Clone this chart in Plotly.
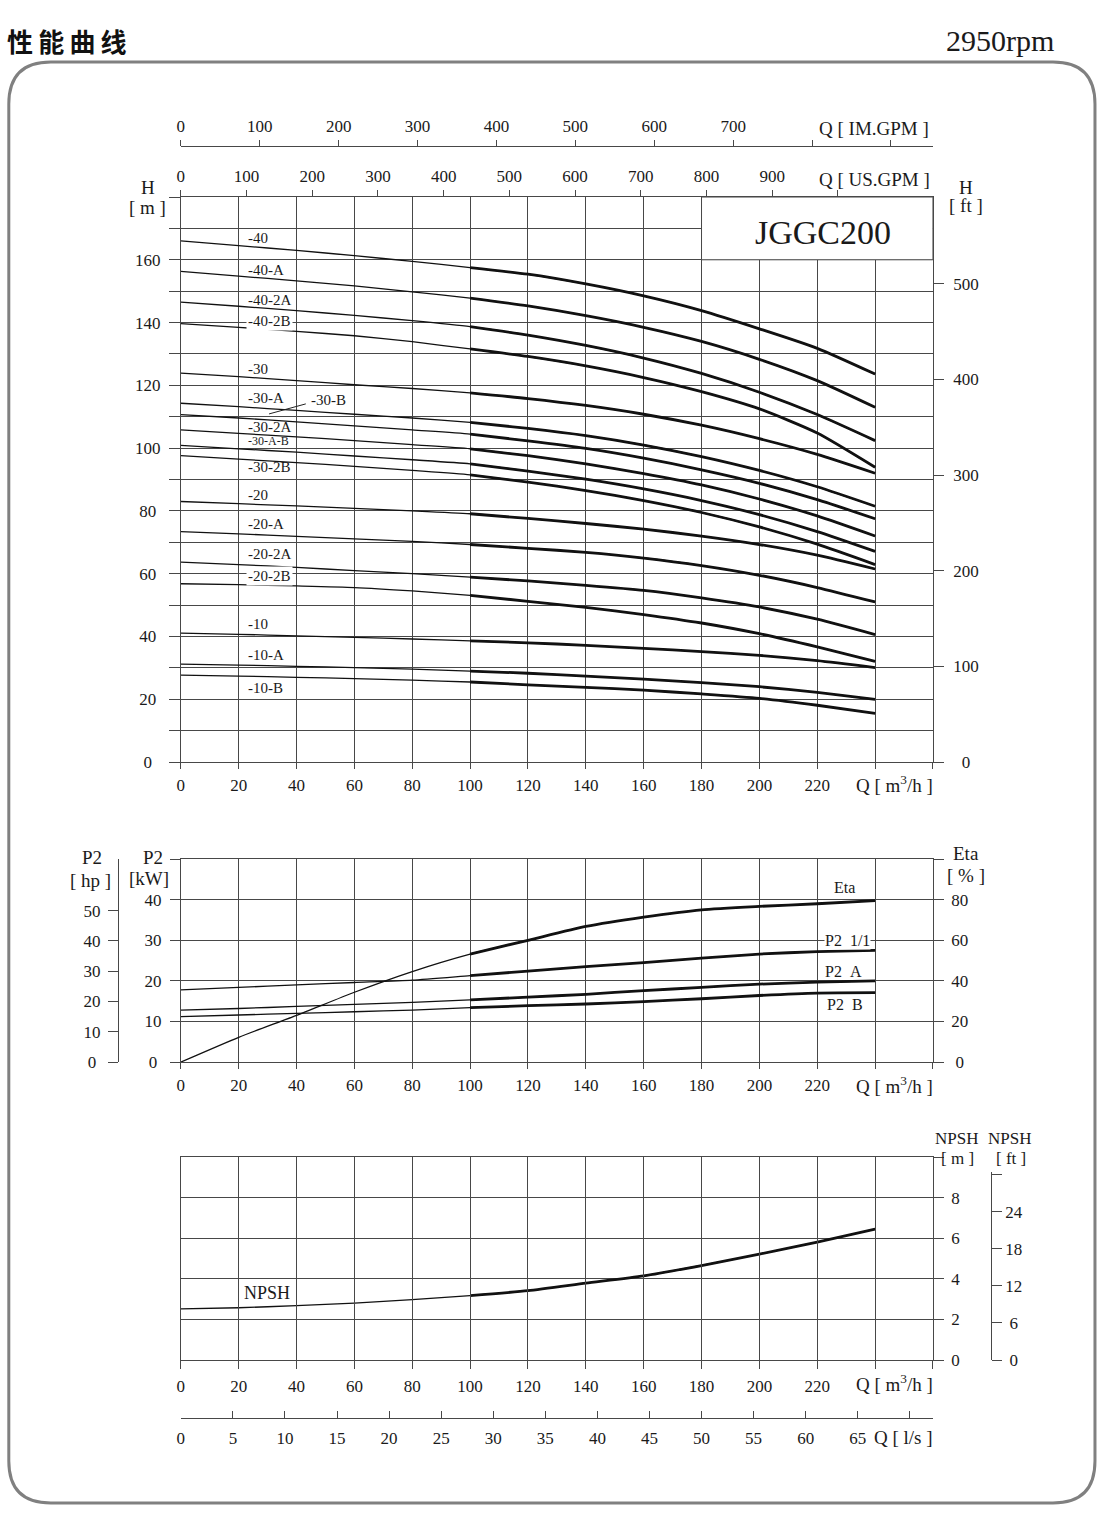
import plotly.graph_objects as go

W, HC = 1100, 1534          # canvas (figure) size in px
SY = 0.9934                 # viewer vertical scale compensation
SX, OX = 0.9962, 3.2        # viewer horizontal scale/offset compensation

# ---------------- data ----------------
Q = [0, 20, 40, 60, 80, 100, 120, 140, 160, 180, 200, 220, 240]

curve_names = ["-40", "-40-A", "-40-2A", "-40-2B", "-30", "-30-A", "-30-B", "-30-2A",
               "-30-A-B", "-30-2B", "-20", "-20-A", "-20-2A", "-20-2B", "-10", "-10-A", "-10-B"]
H_40 = [166.0, 164.5, 163.0, 161.3, 159.5, 157.5, 155.4, 152.3, 148.5, 143.8, 138.0, 131.8, 123.6]
H_40A = [156.3, 154.8, 153.3, 151.7, 149.8, 147.8, 145.3, 142.2, 138.5, 134.0, 128.3, 121.5, 113.0]
H_40_2A = [146.5, 145.2, 143.8, 142.3, 140.6, 138.7, 136.0, 132.7, 128.7, 123.8, 117.8, 110.7, 102.4]
H_40_2B = [139.7, 138.5, 137.2, 135.8, 133.9, 131.6, 129.2, 126.2, 122.5, 118.0, 112.5, 104.8, 93.9]
H_30 = [123.9, 122.8, 121.5, 120.2, 119.0, 117.6, 115.8, 113.6, 110.8, 107.3, 103.0, 98.0, 92.0]
H_30A = [114.3, 113.2, 112.0, 110.8, 109.6, 108.2, 106.3, 104.0, 101.0, 97.3, 92.9, 87.7, 81.5]
H_30B = [110.7, 109.6, 108.4, 107.1, 105.8, 104.5, 102.3, 99.9, 96.8, 93.1, 88.8, 83.6, 77.5]
H_30_2A = [105.8, 104.7, 103.6, 102.4, 101.1, 99.8, 97.6, 95.0, 91.9, 88.3, 83.8, 78.4, 72.0]
H_30AB = [100.9, 99.8, 98.7, 97.5, 96.3, 95.0, 92.7, 90.1, 87.0, 83.3, 78.8, 73.4, 67.1]
H_30_2B = [97.6, 96.5, 95.4, 94.2, 92.9, 91.5, 89.2, 86.5, 83.3, 79.5, 74.9, 69.4, 62.9]
H_20 = [83.0, 82.3, 81.6, 80.8, 80.0, 79.1, 77.6, 76.0, 74.2, 72.0, 69.3, 65.9, 61.5]
H_20A = [73.4, 72.7, 71.9, 71.1, 70.3, 69.3, 68.1, 66.8, 65.0, 62.6, 59.5, 55.6, 51.0]
H_20_2A = [63.7, 62.9, 62.0, 61.0, 60.0, 58.9, 57.7, 56.3, 54.7, 52.3, 49.4, 45.5, 40.6]
H_20_2B = [56.8, 56.5, 56.1, 55.6, 54.5, 53.1, 51.2, 49.3, 47.0, 44.3, 40.9, 36.7, 32.1]
H_10 = [41.1, 40.7, 40.2, 39.7, 39.2, 38.6, 38.0, 37.2, 36.2, 35.2, 34.0, 32.3, 30.1]
H_10A = [31.2, 30.9, 30.5, 30.1, 29.6, 29.0, 28.3, 27.4, 26.4, 25.3, 24.0, 22.2, 20.0]
H_10B = [27.7, 27.4, 27.0, 26.6, 26.1, 25.5, 24.6, 23.8, 22.9, 21.7, 20.3, 18.1, 15.5]
H_curves = [H_40, H_40A, H_40_2A, H_40_2B, H_30, H_30A, H_30B, H_30_2A, H_30AB, H_30_2B,
            H_20, H_20A, H_20_2A, H_20_2B, H_10, H_10A, H_10B]

# label positions (Q, H) for the curve names
label_Q = [22.6] * 17
label_Q[6] = 44.2
label_H = [166.8, 156.8, 147.2, 140.6, 125.2, 116.0, 115.4, 106.6, 102.2, 93.9,
           85.1, 75.9, 66.4, 59.3, 44.0, 34.0, 23.6]

P2_FULL = [17.8, 18.4, 19.0, 19.6, 20.2, 21.3, 22.4, 23.5, 24.5, 25.6, 26.6, 27.2, 27.5]
P2_A = [12.8, 13.2, 13.7, 14.2, 14.7, 15.3, 16.0, 16.7, 17.6, 18.4, 19.2, 19.7, 20.0]
P2_B = [11.2, 11.6, 12.0, 12.4, 12.8, 13.4, 13.9, 14.3, 14.9, 15.6, 16.4, 17.0, 17.1]
ETA = [0.0, 12.2, 23.0, 34.4, 44.6, 53.2, 60.0, 66.8, 71.4, 75.0, 76.7, 78.0, 79.5]
NPSH = [2.52, 2.58, 2.68, 2.81, 2.98, 3.18, 3.42, 3.79, 4.15, 4.66, 5.22, 5.81, 6.45]

# tick lists: labelled (major) and unlabelled (minor) positions, with centred labels
NB = "\u00a0"
q_major = list(range(0, 221, 20))
q_minor = [240, 260]
h_major = list(range(0, 161, 20))
h_text = ["0" + NB * 2, "20" + NB, "40" + NB, "60" + NB, "80" + NB, "100", "120", "140", "160"]
h_minor = list(range(10, 181, 20)) + [180]
hft_major = [0, 100, 200, 300, 400, 500]
hft_text = [NB * 2 + "0", "100", "200", "300", "400", "500"]
us_major = list(range(0, 901, 100))
us_minor = [1000]
im_major = list(range(0, 701, 100))
im_minor = [800, 900]
kw_major = [0, 10, 20, 30, 40]
kw_text = ["0" + NB, "10", "20", "30", "40"]
kw_minor = [50]
eta_major = [0, 20, 40, 60, 80]
eta_text = [NB + "0", "20", "40", "60", "80"]
eta_minor = [100]
hp_major = [0, 10, 20, 30, 40, 50]
hp_text = ["0" + NB, "10", "20", "30", "40", "50"]
npsh_major = [0, 2, 4, 6, 8]
npsh_minor = [10]
nft_major = [0, 6, 12, 18, 24]
nft_text = [NB + "0", NB + "6", "12", "18", "24"]
nft_minor = [30]
ls_major = list(range(0, 66, 5))
ls_minor = [70]

# unit conversions
M3H_TO_USGPM = 4.4029
M3H_TO_IMGPM = 3.6662
M_TO_FT = 3.2808
KW_PER_HP = 0.7457
M3H_PER_LS = 3.6
Q_MAX = 260

# ---------------- helpers ----------------
def fx(px):
    return (px - OX) / SX / W


def fy(py):
    return 1 - (py / SY) / HC


SERIF = "Liberation Serif, Times New Roman, serif"
INK = "#1a1a1a"
GRID = "#484848"
tickfont = dict(family=SERIF, size=17, color=INK)

fig = go.Figure()


def add_curve(x, y, xa, ya, split=100):
    fig.add_trace(go.Scatter(x=x, y=y, xaxis=xa, yaxis=ya, mode="lines",
                             line=dict(color="#111111", width=1.3, shape="spline", smoothing=0.6),
                             hoverinfo="skip", showlegend=False))
    xs = [a for a in x if a >= split]
    ys = [b for a, b in zip(x, y) if a >= split]
    fig.add_trace(go.Scatter(x=xs, y=ys, xaxis=xa, yaxis=ya, mode="lines",
                             line=dict(color="#111111", width=2.8, shape="spline", smoothing=0.6),
                             hoverinfo="skip", showlegend=False))


def dummy(xa, ya):
    fig.add_trace(go.Scatter(x=[0], y=[0], xaxis=xa, yaxis=ya, mode="markers",
                             marker=dict(opacity=0, size=1), hoverinfo="skip", showlegend=False))


for hc in H_curves:
    add_curve(Q, hc, "x", "y")
add_curve(Q, P2_FULL, "x4", "y3")
add_curve(Q, P2_A, "x4", "y3")
add_curve(Q, P2_B, "x4", "y3")
add_curve(Q, ETA, "x4", "y4")
add_curve(Q, NPSH, "x5", "y6")

dummy("x2", "y")
dummy("x3", "y")
dummy("x", "y2")
dummy("x4", "y5")
dummy("x5", "y7")
dummy("x5", "y8")
dummy("x6", "y6")

XD = [fx(180), fx(932)]
D1 = [fy(762), fy(197)]
D2 = [fy(1062), fy(859)]
D3 = [fy(1360), fy(1157)]
D3FT = [fy(1360), fy(1172)]
ft_top = (1360 - 1172) / (1360 - 1157) * 10 * M_TO_FT


def minor(vals, ticks="outside", ticklen=6, grid=False):
    return dict(tickmode="array", tickvals=vals, ticks=ticks, ticklen=ticklen,
                tickcolor=GRID, showgrid=grid, gridcolor=GRID, gridwidth=1)


def q_axis(anchor, ticklen):
    return dict(domain=XD, range=[0, Q_MAX], anchor=anchor, tickmode="array",
                tickvals=q_major, ticks="outside", ticklen=ticklen, tickcolor=GRID,
                showgrid=True, gridcolor=GRID, gridwidth=1, showline=True, linecolor=GRID,
                linewidth=1, mirror=True, zeroline=False, tickfont=tickfont,
                ticklabelstandoff=2, minor=minor(q_minor, ticklen=ticklen, grid=True))


layout = dict(
    width=W, height=HC, margin=dict(l=0, r=0, t=0, b=0, pad=0),
    paper_bgcolor="white", plot_bgcolor="rgba(0,0,0,0)", showlegend=False, hovermode=False,
    # panel 1
    xaxis=q_axis("y", 6),
    yaxis=dict(domain=D1, range=[0, 180], anchor="x", tickmode="array", tickvals=h_major,
               ticktext=h_text, ticks="outside", ticklen=11, tickcolor=GRID, showgrid=True,
               gridcolor=GRID, showline=True, linecolor=GRID, mirror=True, zeroline=False,
               tickfont=tickfont, ticklabelstandoff=5,
               minor=minor(h_minor, ticklen=11, grid=True)),
    yaxis2=dict(overlaying="y", side="right", anchor="x", range=[0, 180 * M_TO_FT],
                tickmode="array", tickvals=hft_major, ticktext=hft_text, ticks="outside",
                ticklen=10, tickcolor=GRID, showgrid=False, showline=False, zeroline=False,
                tickfont=tickfont, ticklabelstandoff=6),
    xaxis2=dict(overlaying="x", side="top", anchor="y", range=[0, Q_MAX * M3H_TO_USGPM],
                tickmode="array", tickvals=us_major, ticks="outside", ticklen=6,
                tickcolor=GRID, showgrid=False, showline=False, zeroline=False,
                tickfont=tickfont, ticklabelstandoff=1, minor=minor(us_minor)),
    xaxis3=dict(overlaying="x", side="top", anchor="free", position=fy(146),
                range=[0, Q_MAX * M3H_TO_IMGPM], tickmode="array", tickvals=im_major,
                ticks="outside", ticklen=6, tickcolor=GRID, showgrid=False, showline=True,
                linecolor=GRID, zeroline=False, tickfont=tickfont, ticklabelstandoff=1,
                minor=minor(im_minor)),
    # panel 2
    xaxis4=q_axis("y3", 6),
    yaxis3=dict(domain=D2, range=[0, 50], anchor="x4", tickmode="array", tickvals=kw_major,
                ticktext=kw_text, ticks="outside", ticklen=10, tickcolor=GRID, showgrid=True,
                gridcolor=GRID, showline=True, linecolor=GRID, mirror=True, zeroline=False,
                tickfont=tickfont, ticklabelstandoff=5,
                minor=minor(kw_minor, ticklen=10, grid=True)),
    yaxis4=dict(overlaying="y3", side="right", anchor="x4", range=[0, 100],
                tickmode="array", tickvals=eta_major, ticktext=eta_text, ticks="outside",
                ticklen=10, tickcolor=GRID, showgrid=False, showline=False, zeroline=False,
                tickfont=tickfont, ticklabelstandoff=4,
                minor=minor(eta_minor, ticklen=10)),
    yaxis5=dict(overlaying="y3", side="left", anchor="free", position=fx(117),
                range=[0, 50 / KW_PER_HP], tickmode="array", tickvals=hp_major,
                ticktext=hp_text, ticks="outside", ticklen=10, tickcolor=GRID,
                showgrid=False, showline=True, linecolor=GRID, zeroline=False,
                tickfont=tickfont, ticklabelstandoff=4),
    # panel 3
    xaxis5=q_axis("y6", 8),
    yaxis6=dict(domain=D3, range=[0, 10], anchor="x5", tickmode="array",
                tickvals=npsh_major + npsh_minor, showticklabels=False, ticks="",
                showgrid=True, gridcolor=GRID, showline=True, linecolor=GRID, mirror=True,
                zeroline=False),
    yaxis7=dict(overlaying="y6", side="right", anchor="x5", range=[0, 10],
                tickmode="array", tickvals=npsh_major, ticks="outside", ticklen=10,
                tickcolor=GRID, showgrid=False, showline=False, zeroline=False,
                tickfont=tickfont, ticklabelstandoff=4,
                minor=minor(npsh_minor, ticklen=10)),
    yaxis8=dict(domain=D3FT, side="right", anchor="free", position=fx(990),
                range=[0, ft_top], tickmode="array", tickvals=nft_major, ticktext=nft_text,
                ticks="outside", ticklen=10, tickcolor=GRID, showgrid=False, showline=True,
                linecolor=GRID, zeroline=False, tickfont=tickfont, ticklabelstandoff=0,
                minor=minor(nft_minor, ticklen=10)),
    xaxis6=dict(overlaying="x5", side="bottom", anchor="free", position=fy(1418),
                range=[0, Q_MAX / M3H_PER_LS], tickmode="array", tickvals=ls_major,
                ticks="inside", ticklen=7, tickcolor=GRID, showgrid=False, showline=True,
                linecolor=GRID, zeroline=False, tickfont=tickfont, ticklabelstandoff=4,
                minor=minor(ls_minor, ticks="inside", ticklen=7)),
)
fig.update_layout(**layout)

annotations = []


def ptext(text, px, py, size=19, xanchor="center", **kw):
    annotations.append(dict(text=text, x=fx(px), y=fy(py), xref="paper", yref="paper",
                            xanchor=xanchor, yanchor="middle", showarrow=False,
                            font=dict(family=SERIF, size=size, color=INK), **kw))


# titles
annotations.append(dict(text="<b>性\u2009能\u2009曲\u2009线</b>", x=fx(4), y=fy(40), xref="paper",
                        yref="paper", xanchor="left", yanchor="middle", showarrow=False,
                        font=dict(family="Noto Sans CJK SC", size=26, color="#111111")))
ptext("2950rpm", 1055, 40, size=30, xanchor="right")

# axis titles
ptext("H", 147, 187)
ptext("[ m ]", 147, 207)
ptext("H", 965, 187)
ptext("[ ft ]", 965, 205)
ptext("Q [ IM.GPM ]", 816, 128, xanchor="left")
ptext("Q [ US.GPM ]", 816, 179, xanchor="left")
ptext("Q [ m<sup>3</sup>/h ]", 853, 784, xanchor="left")
ptext("P2", 91, 857)
ptext("[ hp ]", 90, 880)
ptext("P2", 152, 857)
ptext("[kW]", 148, 878)
ptext("Eta", 965, 853)
ptext("[ % ]", 965, 875)
ptext("Q [ m<sup>3</sup>/h ]", 853, 1085, xanchor="left")
ptext("NPSH", 956, 1138, size=17)
ptext("[ m ]", 957, 1158, size=17)
ptext("NPSH", 1009, 1138, size=17)
ptext("[ ft ]", 1010, 1158, size=17)
ptext("Q [ m<sup>3</sup>/h ]", 853, 1383, xanchor="left")
ptext("Q [ l/s ]", 871, 1437, xanchor="left")

# curve labels panel 1
for name, lq, lh in zip(curve_names, label_Q, label_H):
    extra = {}
    if name in ("-40-2B", "-20-2B"):
        extra = dict(bgcolor="white", borderpad=1)
    annotations.append(dict(text=name, x=lq, y=lh, xref="x", yref="y", xanchor="left",
                            yanchor="middle", showarrow=False,
                            font=dict(family=SERIF, size=12 if name == "-30-A-B" else 15,
                                      color=INK), **extra))
annotations.append(dict(text="JGGC200", x=222, y=168.6, xref="x", yref="y", xanchor="center",
                        yanchor="middle", showarrow=False,
                        font=dict(family=SERIF, size=34, color=INK)))

# panel 2 labels
for txt, lq, lk, bg in [("Eta", 229.4, 43.0, False),
                        ("P2\u00a0\u00a01/1", 230.6, 30.0, True),
                        ("P2\u00a0\u00a0A", 229.0, 22.4, False),
                        ("P2\u00a0\u00a0B", 229.5, 14.3, False)]:
    extra = dict(bgcolor="white", borderpad=0) if bg else {}
    annotations.append(dict(text=txt, x=lq, y=lk, xref="x4", yref="y3", xanchor="center",
                            yanchor="middle", showarrow=False,
                            font=dict(family=SERIF, size=16, color=INK), **extra))

# panel 3 label
annotations.append(dict(text="NPSH", x=29.7, y=3.29, xref="x5", yref="y6", xanchor="center",
                        yanchor="middle", showarrow=False,
                        font=dict(family=SERIF, size=18, color=INK)))

fig.update_layout(annotations=annotations)

# shapes: model box, leader line, rounded frame
r_x, r_y = 42 / SX / W, 42 / SY / HC
x0, x1, y0, y1 = fx(8), fx(1094), fy(1503), fy(62)
frame = (f"M {x0 + r_x} {y1} L {x1 - r_x} {y1} Q {x1} {y1} {x1} {y1 - r_y} "
         f"L {x1} {y0 + r_y} Q {x1} {y0} {x1 - r_x} {y0} L {x0 + r_x} {y0} "
         f"Q {x0} {y0} {x0} {y0 + r_y} L {x0} {y1 - r_y} Q {x0} {y1} {x0 + r_x} {y1} Z")
fig.update_layout(shapes=[
    dict(type="rect", xref="x", yref="y", x0=180, x1=260, y0=160, y1=180,
         fillcolor="white", line=dict(color=GRID, width=1), layer="between"),
    dict(type="line", xref="x", yref="y", x0=30.5, y0=110.9, x1=43.2, y1=114.1,
         line=dict(color="#222222", width=1)),
    dict(type="path", xref="paper", yref="paper", path=frame,
         line=dict(color="#808080", width=3)),
])

fig.write_html(
    "out.html",
    config={"displayModeBar": False, "staticPlot": True},
    post_script=(
        "document.documentElement.style.overflow='hidden';"
        "document.body.style.margin='0';document.body.style.padding='0';"
        "document.body.style.overflow='hidden';"
    ),
)
